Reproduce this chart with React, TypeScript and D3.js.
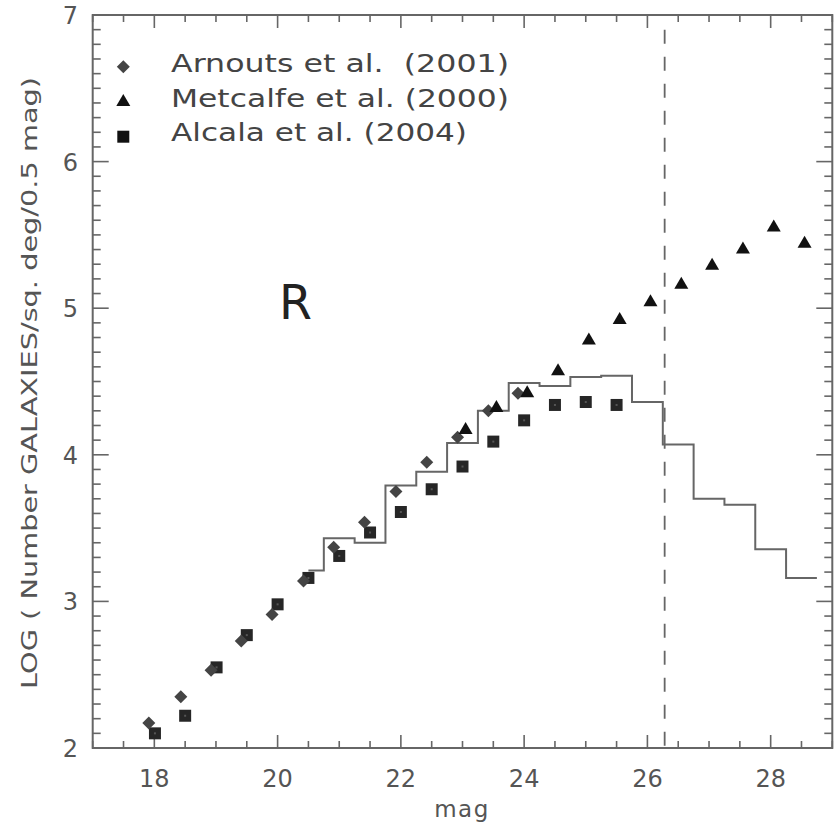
import React from "react";
import * as d3 from "d3";

// ---- data ----
const arnoutsMag = [17.91, 18.43, 18.92, 19.41, 19.91, 20.42, 20.91, 21.41, 21.92, 22.42, 22.92, 23.42, 23.9];
const arnoutsLog = [2.17, 2.35, 2.53, 2.73, 2.91, 3.14, 3.37, 3.54, 3.75, 3.95, 4.12, 4.3, 4.42];

const metcalfeMag = [23.05, 23.55, 24.05, 24.55, 25.05, 25.55, 26.05, 26.55, 27.05, 27.55, 28.05, 28.55];
const metcalfeLog = [4.17, 4.32, 4.42, 4.57, 4.78, 4.92, 5.04, 5.16, 5.29, 5.4, 5.55, 5.44];

const alcalaMag = [18.01, 18.5, 19.01, 19.5, 20.0, 20.5, 21.0, 21.5, 22.0, 22.5, 23.0, 23.5, 24.0, 24.5, 25.0, 25.5];
const alcalaLog = [2.1, 2.22, 2.55, 2.77, 2.98, 3.16, 3.31, 3.47, 3.61, 3.765, 3.92, 4.09, 4.235, 4.34, 4.36, 4.34];

const histEdges = [20.5, 20.75, 21.25, 21.75, 22.25, 22.75, 23.25, 23.75, 24.25, 24.75, 25.25, 25.75, 26.25, 26.75, 27.25, 27.75, 28.25, 28.75];
const histLog = [3.21, 3.43, 3.4, 3.79, 3.885, 4.08, 4.3, 4.49, 4.47, 4.53, 4.54, 4.36, 4.07, 3.7, 3.66, 3.355, 3.16];

const limitMag = 26.28;

const xTickLabels = [18, 20, 22, 24, 26, 28];
const yTickLabels = [2, 3, 4, 5, 6, 7];

const legendLabels = ["Arnouts et al.  (2001)", "Metcalfe et al. (2000)", "Alcala et al. (2004)"];

const W = 834;
const H = 825;
const L = 92.7, R = 832.3, T = 15, B = 748;

const FONT = "'DejaVu Sans', 'Liberation Sans', sans-serif";
const AXIS = "#666";
const TEXT = "#555";

function diamond(cx: number, cy: number, r: number) {
  return `M${cx},${cy - r}L${cx + r},${cy}L${cx},${cy + r}L${cx - r},${cy}Z`;
}
function square(cx: number, cy: number, h: number) {
  return `M${cx - h},${cy - h}H${cx + h}V${cy + h}H${cx - h}Z`;
}
function triangle(cx: number, cy: number, w: number, h: number) {
  return `M${cx},${cy - (2 * h) / 3}L${cx + w / 2},${cy + h / 3}L${cx - w / 2},${cy + h / 3}Z`;
}

export default function App() {
  const x = d3.scaleLinear().domain([17, 29]).range([L, R]);
  const y = d3.scaleLinear().domain([2, 7]).range([B, T]);

  const xMinor = d3.range(17, 29.001, 0.5);
  const yMinor = d3.range(2, 7.001, 0.1).map((v) => Math.round(v * 10) / 10);

  const histPts: [number, number][] = histEdges.map((e, i) => [e, histLog[Math.min(i, histLog.length - 1)]]);
  const histPath = d3
    .line<[number, number]>()
    .x((d) => x(d[0]))
    .y((d) => y(d[1]))
    .curve(d3.curveStepAfter)(histPts) as string;

  const ticks: JSX.Element[] = [];
  xMinor.forEach((v, i) => {
    const major = Math.abs(v - Math.round(v)) < 1e-6 && Math.round(v) % 2 === 0;
    const len = major ? 13 : 7;
    const px = x(v);
    ticks.push(<line key={"xb" + i} x1={px} x2={px} y1={B} y2={B - len} stroke={AXIS} strokeWidth={1.6} />);
    ticks.push(<line key={"xt" + i} x1={px} x2={px} y1={T} y2={T + len} stroke={AXIS} strokeWidth={1.6} />);
  });
  yMinor.forEach((v, i) => {
    const major = Math.abs(v - Math.round(v)) < 1e-6;
    const len = major ? 16 : 8;
    const py = y(v);
    ticks.push(<line key={"yl" + i} x1={L} x2={L + len} y1={py} y2={py} stroke={AXIS} strokeWidth={1.6} />);
    ticks.push(<line key={"yr" + i} x1={R} x2={R - len} y1={py} y2={py} stroke={AXIS} strokeWidth={1.6} />);
  });

  return (
    <svg width={W} height={H} style={{ position: "absolute", left: 0, top: 0, background: "#fff" }}>
      <rect x={0} y={0} width={W} height={H} fill="#fff" />
      {/* frame */}
      <rect x={L} y={T} width={R - L} height={B - T} fill="none" stroke={AXIS} strokeWidth={2} />
      {ticks}

      {/* tick labels */}
      {xTickLabels.map((v) => (
        <text key={"xl" + v} x={x(v)} y={787} textAnchor="middle" fontFamily={FONT} fontSize={24} fill={TEXT}>
          {v}
        </text>
      ))}
      {yTickLabels.map((v) => (
        <text key={"yl" + v} x={78} y={y(v) + 9} textAnchor="end" fontFamily={FONT} fontSize={24} fill={TEXT}>
          {v}
        </text>
      ))}

      {/* axis titles */}
      <text x={462} y={817} textAnchor="middle" fontFamily={FONT} fontSize={23} fill={TEXT} letterSpacing={1.5}>
        mag
      </text>
      <text
        transform={`translate(37,${383}) rotate(-90)`}
        textAnchor="middle"
        fontFamily={FONT}
        fontSize={22}
        fill={TEXT}
        textLength={612}
        lengthAdjust="spacingAndGlyphs"
      >
        LOG ( Number GALAXIES/sq. deg/0.5 mag)
      </text>

      {/* R label */}
      <text x={279} y={319} fontFamily={FONT} fontSize={48} fill="#222" textLength={33} lengthAdjust="spacingAndGlyphs">
        R
      </text>

      {/* limit line */}
      <line x1={x(limitMag)} x2={x(limitMag)} y1={y(6.9)} y2={B} stroke={AXIS} strokeWidth={1.8} strokeDasharray="14,13" />

      {/* histogram */}
      <path d={histPath} fill="none" stroke={AXIS} strokeWidth={2} />

      {/* Alcala squares */}
      {alcalaMag.map((m, i) => (
        <g key={"a" + i}>
          <path d={square(x(m), y(alcalaLog[i]), 6)} fill="#262626" />
          <rect x={x(m) - 1} y={y(alcalaLog[i]) - 1} width={2} height={2} fill="#555" />
        </g>
      ))}
      {/* Arnouts diamonds */}
      {arnoutsMag.map((m, i) => (
        <path key={"d" + i} d={diamond(x(m), y(arnoutsLog[i]), 6.5)} fill="#444" />
      ))}
      {/* Metcalfe triangles */}
      {metcalfeMag.map((m, i) => (
        <path key={"t" + i} d={triangle(x(m), y(metcalfeLog[i]), 14, 12)} fill="#111" />
      ))}

      {/* legend */}
      <path d={diamond(123.3, 66.7, 6.5)} fill="#444" />
      <path d={triangle(123.3, 102, 14, 12)} fill="#111" />
      <path d={square(123.3, 136.7, 6)} fill="#111" />
      {legendLabels.map((t, i) => (
        <text
          key={"lg" + i}
          x={171}
          y={[72, 106.5, 141][i]}
          fontFamily={FONT}
          fontSize={25}
          fill="#444"
          textLength={[338, 338, 296][i]}
          lengthAdjust="spacingAndGlyphs"
          style={{ whiteSpace: "pre" }}
        >
          {t}
        </text>
      ))}
    </svg>
  );
}
